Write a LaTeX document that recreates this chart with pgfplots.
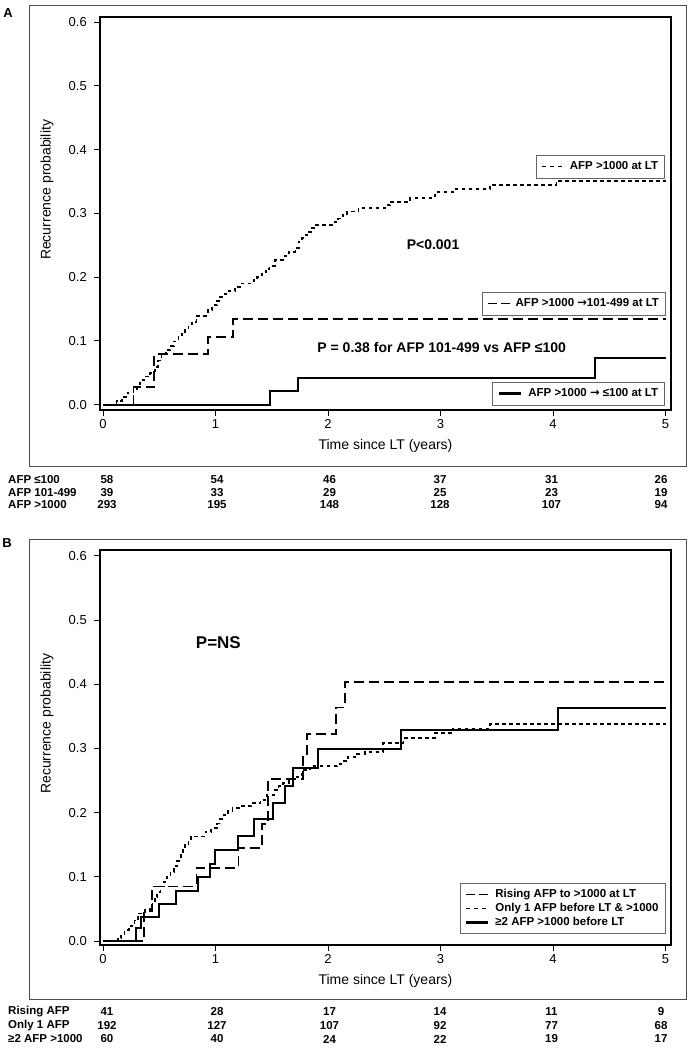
\documentclass[border=0pt]{standalone}
\usepackage{pgfplots}
\pgfplotsset{compat=1.18}
\usepackage{fontspec}
\setmainfont{Liberation Sans}
\newfontfamily\arrowfont{DejaVu Sans}
\newcommand{\arr}{{\arrowfont\bfseries →}}
\newcommand{\riskrow}[8]{%
  \node[risk,anchor=west] at (8pt,#1) {#2};
  \node[risk] at (107pt,#1) {#3};
  \node[risk] at (217pt,#1) {#4};
  \node[risk] at (329.5pt,#1) {#5};
  \node[risk] at (440pt,#1) {#6};
  \node[risk] at (551.5pt,#1) {#7};
  \node[risk] at (661pt,#1) {#8};}
\begin{document}
\begin{tikzpicture}[
  risk/.style={font=\bfseries\fontsize{11.5}{13}\selectfont, inner sep=0pt},
  ptext/.style={font=\bfseries\fontsize{14}{16}\selectfont, inner sep=0pt},
  dotsty/.style={black, line width=1.8pt, dash pattern=on 3.5pt off 3.5pt},
  dashsty/.style={black, line width=1.8pt, dash pattern=on 10pt off 5pt},
  solsty/.style={black, line width=2pt},
  dotleg/.style={black, line width=1.5pt, dash pattern=on 4pt off 4pt},
  dashleg/.style={black, line width=0.8pt, dash pattern=on 9pt off 4pt},
  solleg/.style={black, line width=3pt}]
\pgfplotsset{
  kmbase/.style={
    scale only axis, width=571pt,
    xmin=-0.027, xmax=5.048,
    axis line style={line width=1.1pt},
    tick align=outside, tick pos=left, major tick length=6pt,
    every tick/.style={black, line width=1pt},
    xtick={0,1,2,3,4,5}, ytick={0,0.1,0.2,0.3,0.4,0.5,0.6},
    /pgf/number format/assume math mode=true,
    yticklabel={\pgfmathprintnumber[fixed,fixed zerofill,precision=1]{\tick}},
    tick label style={font=\fontsize{13}{15}\selectfont},
    xticklabel style={anchor=north, inner sep=0pt, yshift=-3pt},
    yticklabel style={anchor=east, inner sep=0pt, xshift=-7pt},
    every axis x label/.style={at={(axis description cs:0.5,-0.0903)}, anchor=center,
      font=\fontsize{14}{16}\selectfont},
    every axis y label/.style={at={(axis description cs:-0.0928,0.56)}, rotate=90, anchor=center,
      font=\fontsize{14}{16}\selectfont},
    legend cell align=left,
    legend image code/.code={\draw[##1] (0pt,0pt) -- (22pt,0pt); \path (26pt,0pt);},
    legend style={draw=black!60, line width=0.7pt, fill=white,
      font=\bfseries\fontsize{11.5}{13}\selectfont,
      inner xsep=5pt, inner ysep=4.3pt,
      nodes={inner sep=1.5pt, text height=8.5pt, text depth=2.5pt}},
  },
  panelA/.style={kmbase, at={(100pt,-410pt)}, anchor=south west, height=393pt,
    ymin=-0.0086, ymax=0.6083},
  panelB/.style={kmbase, at={(100pt,-945pt)}, anchor=south west, height=395pt,
    ymin=-0.0062, ymax=0.6093},
}
\useasboundingbox (0pt,0pt) rectangle (689pt,-1050pt);
\draw[black!70, line width=1pt] (29pt,-5pt) rectangle (686pt,-466pt);
\draw[black!70, line width=1pt] (29pt,-539pt) rectangle (686pt,-999pt);
\node[font=\bfseries\fontsize{13}{15}\selectfont] at (8pt,-13pt) {A};
\node[font=\bfseries\fontsize{13}{15}\selectfont] at (7pt,-543pt) {B};

% ---------------- Panel A ----------------
\begin{axis}[panelA, xlabel={Time since LT (years)}, ylabel={Recurrence probability},
  legend style={at={(0.9895,0.649)}, anchor=north east}]
\addplot[dotsty, const plot, forget plot] coordinates {
 (0,0) (0.12,0.006) (0.17,0.012) (0.22,0.019) (0.27,0.025) (0.30,0.032)
 (0.33,0.038) (0.38,0.044) (0.42,0.049) (0.46,0.059) (0.49,0.069) (0.52,0.079)
 (0.56,0.086) (0.60,0.092) (0.63,0.099) (0.67,0.106) (0.70,0.111) (0.73,0.117)
 (0.76,0.124) (0.79,0.130) (0.83,0.139) (0.93,0.148) (0.97,0.156) (1.01,0.163)
 (1.04,0.169) (1.08,0.174) (1.10,0.178) (1.17,0.185) (1.23,0.190) (1.34,0.195)
 (1.37,0.200) (1.41,0.208) (1.45,0.213) (1.48,0.218) (1.53,0.227) (1.60,0.233)
 (1.65,0.240) (1.71,0.246) (1.74,0.256) (1.77,0.261) (1.80,0.266) (1.83,0.271)
 (1.86,0.277) (1.89,0.282) (2.06,0.287) (2.09,0.292) (2.13,0.297) (2.17,0.303)
 (2.27,0.308) (2.51,0.313) (2.55,0.318) (2.73,0.324) (2.95,0.333) (3.11,0.338)
 (3.44,0.345) (4.03,0.351) (5.00,0.351)};
\addlegendimage{dotleg}
\addlegendentry{AFP >1000 at LT}
\node[ptext] at (axis cs:2.933,0.2504) {P<0.001};
\node[ptext] at (axis cs:3.010,0.0892) {P = 0.38 for AFP 101-499 vs AFP ≤100};
\end{axis}
\begin{axis}[panelA, hide axis, legend style={at={(0.991,0.300)}, anchor=north east}]
\addplot[dashsty, const plot, forget plot] coordinates {
 (0,0) (0.27,0.027) (0.456,0.079) (0.93,0.106) (1.158,0.134) (5,0.134)};
\addlegendimage{dashleg}
\addlegendentry{AFP >1000 \arr101-499 at LT}
\end{axis}
\begin{axis}[panelA, hide axis, legend style={at={(0.9895,0.0712)}, anchor=north east}]
\addplot[solsty, const plot, forget plot] coordinates {
 (0,0) (1.484,0.0207) (1.736,0.041) (4.373,0.0725) (5,0.0725)};
\addlegendimage{solleg}
\addlegendentry{AFP >1000 \arr{} ≤100 at LT}
\end{axis}

\riskrow{-480pt}{AFP ≤100}{58}{54}{46}{37}{31}{26}
\riskrow{-492.5pt}{AFP 101-499}{39}{33}{29}{25}{23}{19}
\riskrow{-505pt}{AFP >1000}{293}{195}{148}{128}{107}{94}

% ---------------- Panel B ----------------
\begin{axis}[panelB, xlabel={Time since LT (years)}, ylabel={Recurrence probability},
  legend style={at={(0.990,0.1577)}, anchor=north east}]
\addplot[dashsty, const plot, forget plot] coordinates {
 (0,0) (0.367,0.046) (0.433,0.085) (0.83,0.114) (1.204,0.145) (1.415,0.182)
 (1.465,0.253) (1.776,0.287) (1.81,0.323) (2.073,0.364) (2.151,0.404) (5,0.404)};
\addplot[dotsty, const plot, forget plot] coordinates {
 (0,0) (0.13,0.005) (0.16,0.011) (0.19,0.017) (0.23,0.024) (0.28,0.032)
 (0.31,0.043) (0.37,0.048) (0.42,0.056) (0.44,0.062) (0.46,0.069) (0.48,0.077)
 (0.51,0.085) (0.54,0.092) (0.57,0.100) (0.60,0.108) (0.63,0.117) (0.66,0.125)
 (0.69,0.134) (0.71,0.142) (0.73,0.150) (0.76,0.157) (0.78,0.163) (0.91,0.170)
 (0.96,0.176) (1.01,0.183) (1.04,0.190) (1.07,0.196) (1.11,0.202) (1.15,0.207)
 (1.23,0.210) (1.32,0.215) (1.40,0.220) (1.46,0.228) (1.52,0.235) (1.56,0.241)
 (1.60,0.246) (1.65,0.251) (1.69,0.256) (1.77,0.266) (1.84,0.273) (2.08,0.276)
 (2.12,0.280) (2.18,0.287) (2.26,0.292) (2.33,0.295) (2.49,0.308) (2.67,0.316)
 (2.95,0.324) (3.11,0.331) (3.44,0.338) (5,0.338)};
\addplot[solsty, const plot, forget plot] coordinates {
 (0,0) (0.29,0.0197) (0.335,0.038) (0.498,0.057) (0.649,0.078) (0.842,0.099)
 (0.951,0.12) (0.996,0.142) (1.197,0.164) (1.345,0.19) (1.514,0.215) (1.618,0.242)
 (1.692,0.27) (1.914,0.299) (2.646,0.329) (4.047,0.3636) (5,0.3636)};
\addlegendimage{dashleg}
\addlegendentry{Rising AFP to >1000 at LT}
\addlegendimage{dotleg}
\addlegendentry{Only 1 AFP before LT \& >1000}
\addlegendimage{solleg}
\addlegendentry{≥2 AFP >1000 before LT}
\node[font=\bfseries\fontsize{17}{19}\selectfont, inner sep=0pt] at (axis cs:1.025,0.4655) {P=NS};
\end{axis}

\riskrow{-1012pt}{Rising AFP}{41}{28}{17}{14}{11}{9}
\riskrow{-1025.5pt}{Only 1 AFP}{192}{127}{107}{92}{77}{68}
\riskrow{-1039pt}{≥2 AFP >1000}{60}{40}{24}{22}{19}{17}
\end{tikzpicture}
\end{document}
